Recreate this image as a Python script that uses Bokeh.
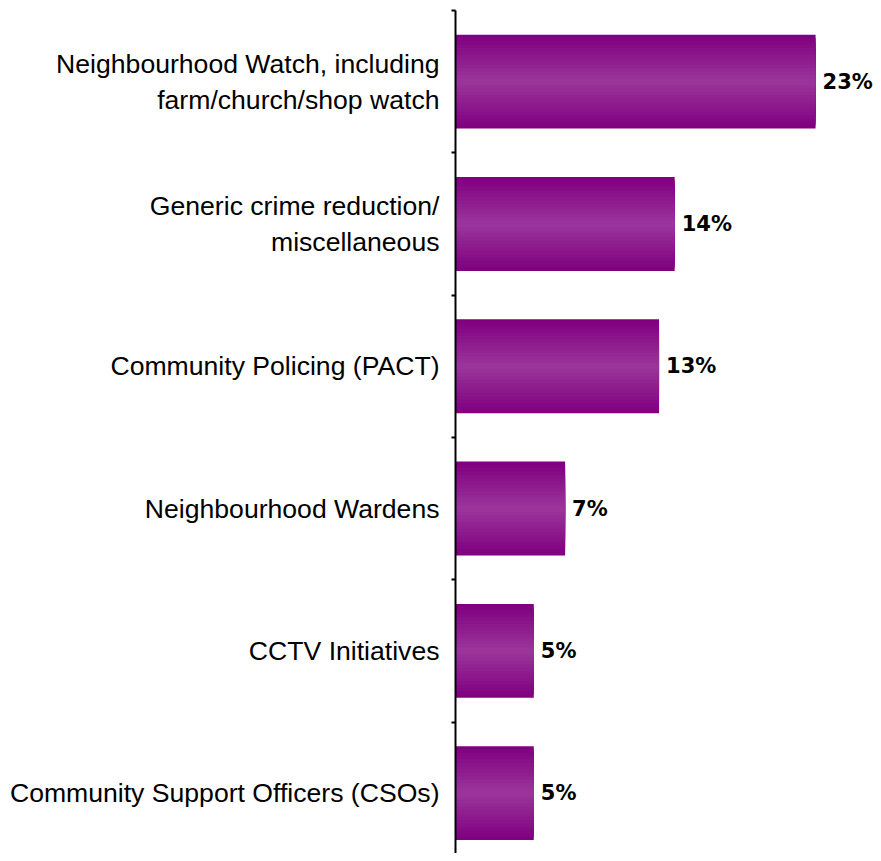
from bokeh.plotting import figure
from bokeh.models import Range1d, LinearAxis, FixedTicker, ColumnDataSource
from bokeh.core.properties import value
from bokeh.embed import file_html
from bokeh.resources import INLINE

categories = [
    "Neighbourhood Watch, including\nfarm/church/shop watch",
    "Generic crime reduction/\nmiscellaneous",
    "Community Policing (PACT)",
    "Neighbourhood Wardens",
    "CCTV Initiatives",
    "Community Support Officers (CSOs)",
]
values = [23, 14, 13, 7, 5, 5]
value_labels = ["23%", "14%", "13%", "7%", "5%", "5%"]

positions = list(range(len(categories)))

p = figure(width=873, height=853, output_backend="svg", toolbar_location=None,
           x_range=Range1d(0, 26.7), y_range=Range1d(5.424, -0.5),
           min_border_left=455, min_border_right=0, min_border_top=10, min_border_bottom=0,
           x_axis_location=None, y_axis_location=None)
p.outline_line_color = None
p.xgrid.visible = False
p.ygrid.visible = False
p.background_fill_color = "white"

# gradient-like bars: layered hbars, darker at edges and lighter in the middle
edge = (128, 0, 128)
center = (154, 52, 154)
n_layers = 14
bar_h = 0.66
src = ColumnDataSource(dict(y=positions, right=values))
for k in range(n_layers):
    t = k / (n_layers - 1)
    col = "#%02x%02x%02x" % tuple(int(round(e + (c - e) * t)) for e, c in zip(edge, center))
    h = bar_h * (1 - k / n_layers)
    p.hbar(y="y", right="right", left=0, height=h, source=src,
           fill_color=col, line_color=None)

lab_src = ColumnDataSource(dict(x=values, y=positions, t=value_labels))
p.text(x="x", y="y", text="t", source=lab_src, x_offset=7,
       text_baseline="middle", text_align="left",
       text_font=value("DejaVu Sans"), text_font_style="bold",
       text_font_size="21px", text_color="black")

ax = LinearAxis(
    ticker=FixedTicker(ticks=positions, minor_ticks=[i - 0.5 for i in range(len(categories) + 1)]),
)
ax.major_label_overrides = {i: c for i, c in enumerate(categories)}
ax.major_tick_line_color = None
ax.major_tick_out = 0
ax.major_tick_in = 0
ax.minor_tick_out = 4
ax.minor_tick_in = 0
ax.minor_tick_line_width = 2
ax.minor_tick_line_color = "black"
ax.axis_line_width = 2
ax.axis_line_color = "black"
ax.major_label_standoff = 12
ax.major_label_text_font = "Liberation Sans"
ax.major_label_text_font_size = "26.6px"
ax.major_label_text_color = "black"
p.add_layout(ax, "left")

open("out.html", "w").write(file_html(p, INLINE))
